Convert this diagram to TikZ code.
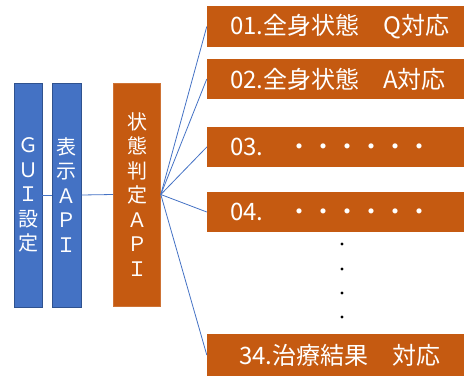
\documentclass[tikz,border=0pt]{standalone}
\usepackage{fontspec}
\newfontfamily\cjk{Noto Sans CJK JP}
\definecolor{orng}{HTML}{C55A11}
\definecolor{blu}{HTML}{4472C4}
\definecolor{bluedge}{HTML}{2F528F}
\definecolor{linec}{HTML}{4472C4}
\begin{document}
\begin{tikzpicture}[x=1pt,y=-1pt,
  bluebox/.style={rectangle,fill=blu,draw=bluedge,line width=0.8pt,inner sep=0pt,text=white,
    font=\cjk\fontsize{20}{24.5}\selectfont,align=center},
  orvbox/.style={rectangle,fill=orng,draw=orng!85!white,line width=0.6pt,inner sep=0pt,text=white,
    font=\cjk\fontsize{20}{24.5}\selectfont,align=center},
  itembox/.style={rectangle,fill=orng,inner xsep=23pt,inner ysep=0pt,text=white,
    minimum width=257pt,text width=211pt,align=left,font=\cjk\fontsize{24}{28}\selectfont},
  conn/.style={draw=linec,line width=0.8pt},
  vdot/.style={circle,fill=black,inner sep=0pt,minimum size=3.2pt}]
\useasboundingbox (0,0) rectangle (464,376);
\node[bluebox,minimum width=28pt,minimum height=224pt] (gui) at (28,195) {Ｇ\\Ｕ\\Ｉ\\設\\定};
\node[bluebox,minimum width=29pt,minimum height=224pt] (disp) at (66.5,195) {表\\示\\Ａ\\Ｐ\\Ｉ};
\node[orvbox,minimum width=47pt,minimum height=223pt] (state) at (137,194.5) {状\\態\\判\\定\\Ａ\\Ｐ\\Ｉ};
\node[itembox,minimum height=41pt] (b1) at (335.5,26.5) {01.全身状態　Q対応};
\node[itembox,minimum height=40pt] (b2) at (335.5,79) {02.全身状態　A対応};
\node[itembox,minimum height=40pt] (b3) at (335.5,147) {03.　・・・・・・};
\node[itembox,minimum height=40pt] (b4) at (335.5,212) {04.　・・・・・・};
\node[itembox,minimum height=42pt] (b34) at (335.5,355) {\hspace{9pt}34.治療結果　対応};
\draw[conn] (gui.east) -- (disp.west);
\draw[conn] (disp.east) -- (state.west);
\foreach \b in {b1,b2,b3,b4,b34} {\draw[conn] (state.east) -- (\b.west);}
\node[vdot] (d1) at (342,244) {};
\node[vdot] (d2) at (342,269) {};
\node[vdot] (d3) at (342,293) {};
\node[vdot] (d4) at (342,317) {};
\end{tikzpicture}
\end{document}
